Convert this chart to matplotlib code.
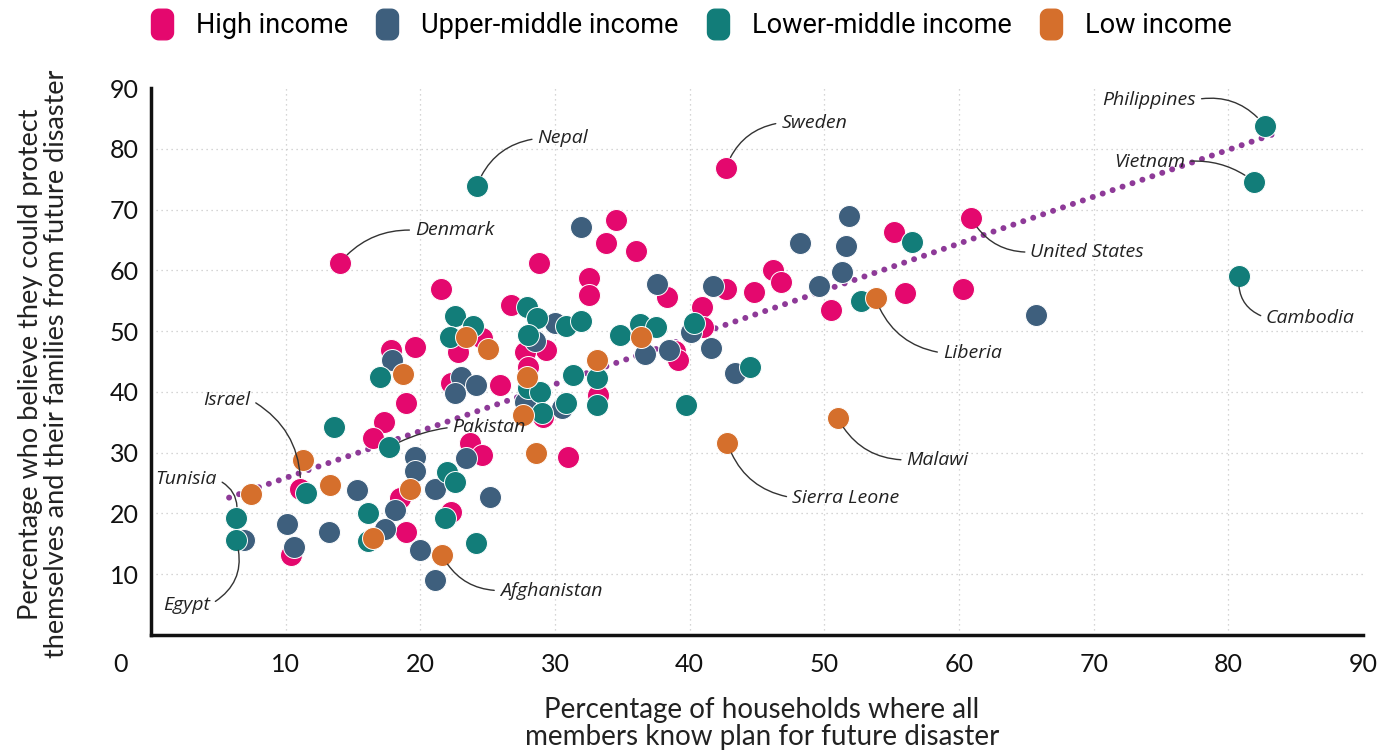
import numpy as np
import matplotlib
matplotlib.use("Agg")
import matplotlib.pyplot as plt
from matplotlib.path import Path
from matplotlib.lines import Line2D

plt.rcParams['font.family'] = ['Lato', 'DejaVu Sans']

# ---- data ----
# high income: Denmark, Sweden, United States, Israel first
high_x = [14.0, 42.7, 60.9, 11.1, 21.5, 28.8, 32.5, 32.5, 33.8, 34.5, 36.0, 26.7, 38.3, 42.7,
          44.8, 40.9, 41.0, 38.9, 39.1, 24.6, 22.8, 29.3, 27.8, 28.0, 29.1, 33.2, 19.6, 17.8,
          18.9, 17.3, 16.5, 22.3, 25.9, 31.0, 23.7, 24.6, 18.5, 18.9, 10.4, 22.3, 46.2, 46.8,
          55.2, 50.5, 56.0, 60.3]
high_y = [61.2, 76.9, 68.6, 24.1, 57.0, 61.2, 58.8, 56.0, 64.5, 68.3, 63.1, 54.3, 55.6, 57.0,
          56.4, 54.0, 50.6, 46.8, 45.3, 48.9, 46.6, 46.9, 46.6, 44.1, 35.8, 39.5, 47.4, 46.9,
          38.1, 35.0, 32.4, 41.5, 41.2, 29.3, 31.6, 29.6, 22.6, 16.9, 13.2, 20.2, 60.0, 58.0,
          66.3, 53.4, 56.2, 57.0]

upper_x = [65.7, 31.9, 37.6, 41.7, 30.0, 28.5, 36.7, 38.5, 40.1, 41.6, 43.4, 30.5, 27.8, 23.0,
           24.1, 22.6, 17.9, 19.6, 19.6, 23.4, 21.1, 25.2, 15.3, 18.1, 17.4, 20.0, 21.1, 13.2,
           10.1, 10.6, 6.9, 51.8, 48.2, 51.6, 51.3, 49.6]
upper_y = [52.7, 67.2, 57.7, 57.4, 51.4, 48.3, 46.3, 46.9, 49.9, 47.2, 43.1, 37.4, 38.3, 42.5,
           41.2, 39.8, 45.3, 29.3, 27.0, 29.1, 24.1, 22.7, 23.8, 20.6, 17.5, 13.9, 9.1, 17.0,
           18.3, 14.4, 15.7, 68.9, 64.5, 64.0, 59.7, 57.4]

# lower-middle: Philippines, Vietnam, Cambodia, Nepal, Pakistan, Tunisia, Egypt first
lower_x = [82.7, 81.9, 80.8, 24.2, 17.7, 6.3, 6.3, 27.9, 22.6, 28.7, 30.8, 31.9, 23.9, 22.2,
           28.0, 28.0, 28.9, 29.0, 34.8, 36.3, 37.5, 40.3, 31.3, 33.1, 33.1, 30.8, 39.7, 44.5,
           56.5, 52.7, 17.0, 13.6, 11.5, 16.1, 16.1, 22.0, 22.6, 21.8, 24.1]
lower_y = [83.8, 74.6, 59.1, 73.9, 30.9, 19.3, 15.7, 53.9, 52.5, 52.2, 50.9, 51.6, 50.9, 49.1,
           49.4, 40.7, 40.0, 36.5, 49.3, 51.1, 50.7, 51.4, 42.8, 42.3, 37.9, 38.2, 37.9, 44.1,
           64.6, 55.0, 42.5, 34.2, 23.3, 20.0, 15.5, 26.8, 25.1, 19.3, 15.2]

# low income: Liberia, Malawi, Sierra Leone, Afghanistan first
low_x = [53.8, 51.0, 42.8, 21.6, 23.4, 25.0, 36.4, 33.1, 27.9, 27.6, 28.6, 18.7, 11.3, 13.3,
         7.4, 19.2, 16.5]
low_y = [55.4, 35.7, 31.6, 13.2, 49.1, 47.1, 49.1, 45.3, 42.5, 36.2, 29.9, 43.0, 28.8, 24.6,
         23.2, 24.0, 16.0]

trend_x = [5.8, 83.2]
trend_y = [22.6, 82.3]

groups = ['High income', 'Upper-middle income', 'Lower-middle income', 'Low income']
colors = ['#e4086e', '#3e5f7d', '#127d79', '#d56f2c']
xs = [high_x, upper_x, lower_x, low_x]
ys = [high_y, upper_y, lower_y, low_y]

# name: (group, index, text x, text y, ha, rad)
labels = {
    'Philippines': (2, 0, 77.6, 88.1, 'right', -0.3),
    'Vietnam': (2, 1, 76.8, 77.9, 'right', -0.2),
    'Cambodia': (2, 2, 82.8, 52.2, 'left', -0.4),
    'Nepal': (2, 3, 28.7, 81.7, 'left', 0.3),
    'Pakistan': (2, 4, 22.4, 34.2, 'left', 0.1),
    'Tunisia': (2, 5, 4.9, 25.6, 'right', -0.4),
    'Egypt': (2, 6, 4.4, 5.0, 'right', 0.4),
    'Denmark': (0, 0, 19.6, 66.6, 'left', 0.25),
    'Sweden': (0, 1, 46.8, 84.3, 'left', 0.3),
    'United States': (0, 2, 65.3, 63.0, 'left', -0.3),
    'Israel': (0, 3, 7.4, 38.7, 'right', -0.3),
    'Liberia': (3, 0, 58.8, 46.4, 'left', -0.3),
    'Malawi': (3, 1, 56.1, 28.8, 'left', -0.3),
    'Sierra Leone': (3, 2, 47.6, 22.6, 'left', -0.3),
    'Afghanistan': (3, 3, 25.9, 7.3, 'left', -0.3),
}


def rounded_marker(w=0.72, h=1.0, r=0.24, n=10):
    pts = []
    corners = [(w/2 - r, h/2 - r, 0), (-w/2 + r, h/2 - r, 90),
               (-w/2 + r, -h/2 + r, 180), (w/2 - r, -h/2 + r, 270)]
    for cx, cy, a0 in corners:
        for t in np.linspace(np.radians(a0), np.radians(a0 + 90), n):
            pts.append((cx + r * np.cos(t), cy + r * np.sin(t)))
    pts.append(pts[0])
    return Path(pts, closed=True)


fig = plt.figure(figsize=(13.89, 7.51), dpi=100)
ax = fig.add_axes([0.1087, 0.1545, 0.8726, 0.7283])

for v in range(10, 90, 10):
    ax.axvline(v, color='#c8c8c8', lw=0.9, ls=(0, (1, 3)), zorder=0)
    ax.axhline(v, color='#c8c8c8', lw=0.9, ls=(0, (1, 3)), zorder=0)

ax.plot(trend_x, trend_y, color='#8e3a98', lw=4.3, ls=(0, (0.01, 1.75)),
        dash_capstyle='round', zorder=2)

for i in range(4):
    ax.scatter(xs[i], ys[i], s=250, color=colors[i], edgecolor='white',
               linewidth=0.7, zorder=3 + i)

for name, (g, k, tx, ty, ha, rad) in labels.items():
    relpos = (1, 0.5) if ha == 'right' else (0, 0.5)
    ax.annotate(name, xy=(xs[g][k], ys[g][k]), xytext=(tx, ty), ha=ha, va='center',
                fontsize=14, style='italic', color='#222222', zorder=10,
                family=['Open Sans', 'DejaVu Sans'],
                arrowprops=dict(arrowstyle='-', color='#333333', lw=1.0,
                                connectionstyle=f'arc3,rad={rad}', relpos=relpos,
                                shrinkA=2, shrinkB=8))

ax.set_xlim(0, 90)
ax.set_ylim(0, 90)
ax.set_xticks(range(10, 100, 10))
ax.set_yticks(range(10, 100, 10))
ax.tick_params(length=0, labelsize=18, labelcolor='#111111')
ax.tick_params(axis='x', pad=13)
ax.tick_params(axis='y', pad=9)
for s in ['top', 'right']:
    ax.spines[s].set_visible(False)
for s in ['left', 'bottom']:
    ax.spines[s].set_linewidth(2.5)
    ax.spines[s].set_color('#111111')

ax.annotate('0', xy=(0, 0), xytext=(-22, -21), textcoords='offset points',
            ha='center', va='center', fontsize=18, color='#111111', annotation_clip=False)

fig.text(0.5486, 0.037, 'Percentage of households where all\nmembers know plan for future disaster',
         ha='center', va='center', fontsize=20, color='#222222', linespacing=1.05)
fig.text(0.031, 0.515, 'Percentage who believe they could protect\nthemselves and their families from future disaster',
         ha='center', va='center', rotation=90, fontsize=19.5, color='#222222', linespacing=1.05)

marker = rounded_marker()
handles = [Line2D([], [], ls='none', marker=marker, markersize=22, color=c) for c in colors]
fig.legend(handles, groups, loc='center', bbox_to_anchor=(0.4968, 0.966), ncol=4,
           frameon=False, handlelength=1.0, handletextpad=0.75, columnspacing=0.95,
           prop={'family': ['Roboto', 'DejaVu Sans'], 'size': 19.5})

fig.savefig('out.png', dpi=100)
